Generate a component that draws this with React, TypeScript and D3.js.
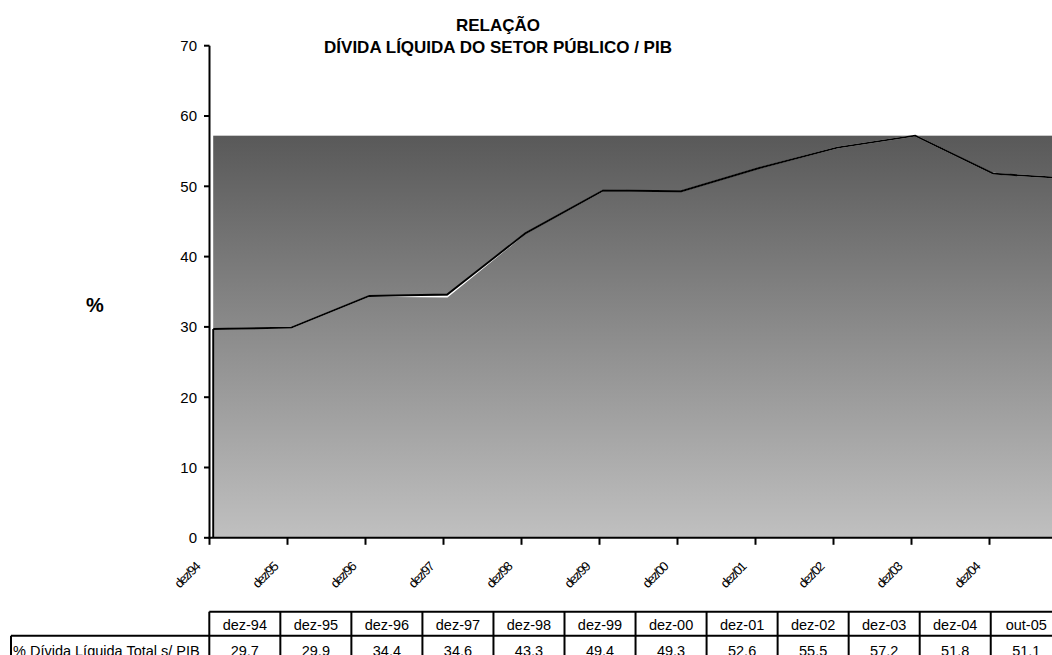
import React from "react";
import * as d3 from "d3";

const categories = ["dez-94", "dez-95", "dez-96", "dez-97", "dez-98", "dez-99", "dez-00", "dez-01", "dez-02", "dez-03", "dez-04", "out-05"];
const debtValues = [29.7, 29.9, 34.4, 34.6, 43.3, 49.4, 49.3, 52.6, 55.5, 57.2, 51.8, 51.1];
const shadowValues = [29.7, 29.9, 34.4, 34.3, 43.3, 49.4, 49.3, 52.6, 55.5, 57.2, 51.8, 51.1];
const axisLabels = ["dez/94", "dez/95", "dez/96", "dez/97", "dez/98", "dez/99", "dez/00", "dez/01", "dez/02", "dez/03", "dez/04"];
const yTicks = [0, 10, 20, 30, 40, 50, 60, 70];
const seriesLabel = "% Dívida Líquida Total s/ PIB";
const titleLines = ["RELAÇÃO", "DÍVIDA LÍQUIDA DO SETOR PÚBLICO / PIB"];

const W = 1052;
const H = 655;
const FONT = "'Liberation Sans', Arial, Helvetica, sans-serif";

export default function App() {
  const y = d3.scaleLinear().domain([0, 70]).range([537.8, 45.7]);
  const x = d3.scalePoint<string>().domain(categories).range([209.5, 209.5 + 11 * 78]);
  const dx = 3.7; // plot offset of the series relative to ticks
  const px = (c: string) => (x(c) as number) + dx;

  const line = d3
    .line<number>()
    .x((_, i) => px(categories[i]))
    .y((v) => y(v));

  const mainPath = line(debtValues) as string;
  const shadowPath = line(shadowValues) as string;
  const maxV = d3.max(debtValues) as number;

  const tableX = d3.scaleLinear().domain([0, categories.length]).range([209.3, 209.3 + categories.length * 71.04]);
  const rowTop = 611.7;
  const rowH = 24;
  const labelLeft = 11;
  const fmt = (v: number) => d3.format(".1f")(v).replace(".", ",");

  const x0 = px(categories[0]);
  const xLast = px(categories[categories.length - 1]);

  return (
    <svg width={W} height={H} style={{ position: "absolute", left: 0, top: 0, background: "#fff" }} fontFamily={FONT}>
      <defs>
        <linearGradient id="areaGrad" x1="0" y1="0" x2="0" y2="1">
          <stop offset="0" stopColor="#595959" />
          <stop offset="1" stopColor="#c0c0c0" />
        </linearGradient>
      </defs>
      <rect width={W} height={H} fill="#fff" />

      {/* Title */}
      <text x={498} y={30.5} textAnchor="middle" fontWeight="bold" fontSize={17}>{titleLines[0]}</text>
      <text x={498} y={53} textAnchor="middle" fontWeight="bold" fontSize={17}>{titleLines[1]}</text>

      {/* Y axis label */}
      <text x={95} y={312} textAnchor="middle" fontWeight="bold" fontSize={20}>%</text>

      {/* gradient area */}
      <rect x={x0} y={y(maxV)} width={xLast - x0} height={y(0) - y(maxV)} fill="url(#areaGrad)" />

      {/* shadow line */}
      <path d={shadowPath} fill="none" stroke="#fff" strokeWidth={1.6} />
      <line x1={x0 - 2} x2={x0 - 2} y1={y(0)} y2={y(debtValues[0])} stroke="#fff" strokeWidth={1.5} />
      {/* main line */}
      <line x1={x0} x2={x0} y1={y(0)} y2={y(debtValues[0])} stroke="#000" strokeWidth={1.9} />
      <path d={mainPath} fill="none" stroke="#000" strokeWidth={1.9} strokeLinejoin="miter" />

      {/* Y axis */}
      <line x1={209.5} x2={209.5} y1={y(70)} y2={y(0) + 1} stroke="#000" strokeWidth={2} />
      {yTicks.map((t) => (
        <g key={t}>
          <line x1={204} x2={209.5} y1={y(t)} y2={y(t)} stroke="#000" strokeWidth={2} />
          <text x={197} y={y(t) + 5.3} textAnchor="end" fontSize={15}>{t}</text>
        </g>
      ))}

      {/* X axis */}
      <line x1={208.5} x2={W} y1={y(0)} y2={y(0)} stroke="#000" strokeWidth={2} />
      {categories.map((c) => (
        <line key={c} x1={x(c) as number} x2={x(c) as number} y1={y(0)} y2={y(0) + 7} stroke="#000" strokeWidth={2} />
      ))}
      {axisLabels.map((lab, i) => (
        <text
          key={lab}
          transform={`translate(${(x(categories[i]) as number) - 9},${568}) rotate(-45)`}
          textAnchor="end"
          fontSize={13}
          letterSpacing={-1.6}
        >
          {lab}
        </text>
      ))}

      {/* Data table */}
      <g stroke="#000" strokeWidth={2} fill="none">
        <line x1={tableX(0)} x2={W} y1={rowTop} y2={rowTop} />
        <line x1={labelLeft} x2={W} y1={rowTop + rowH} y2={rowTop + rowH} />
        <line x1={labelLeft} x2={labelLeft} y1={rowTop + rowH} y2={H + 2} />
        {categories.map((c, i) => (
          <line key={c} x1={tableX(i)} x2={tableX(i)} y1={rowTop} y2={H + 2} />
        ))}
      </g>
      {categories.map((c, i) => (
        <g key={c}>
          <text x={(tableX(i) + tableX(i + 1)) / 2} y={629.5} textAnchor="middle" fontSize={14.5}>{c}</text>
          <text x={(tableX(i) + tableX(i + 1)) / 2} y={655.5} textAnchor="middle" fontSize={14.5}>{fmt(debtValues[i])}</text>
        </g>
      ))}
      <text x={13} y={655.5} fontSize={14.5}>{seriesLabel}</text>
    </svg>
  );
}
